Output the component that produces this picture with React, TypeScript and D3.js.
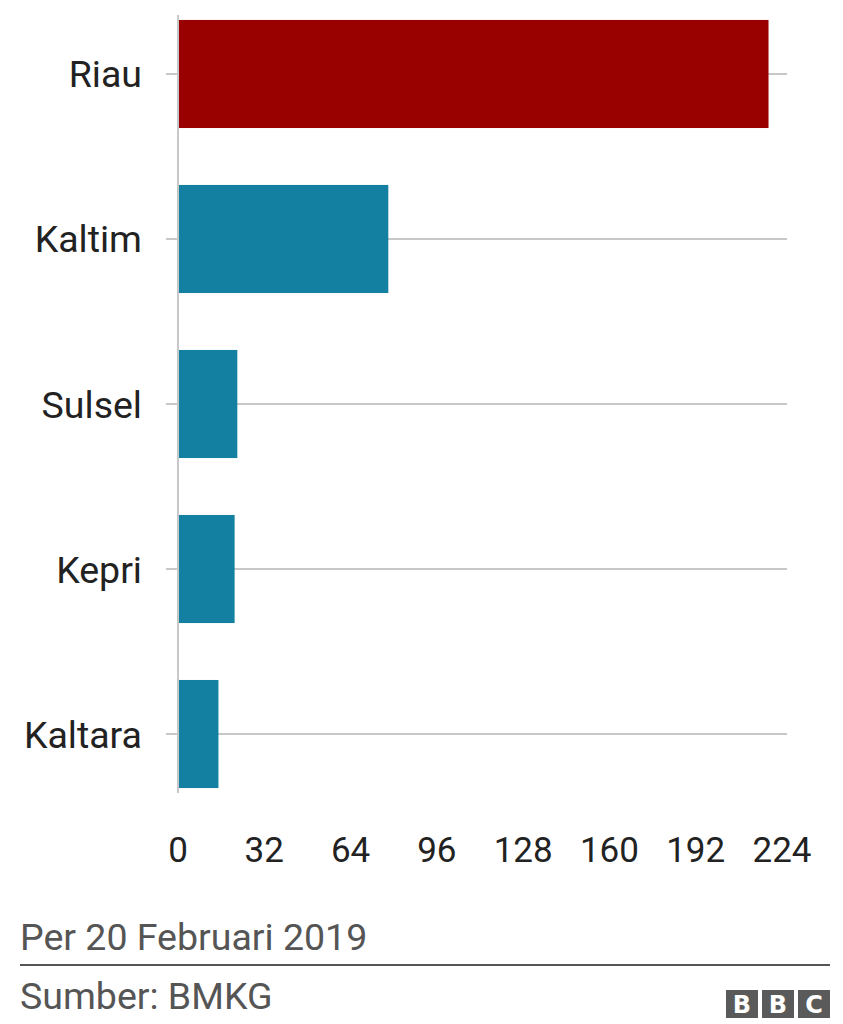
import React from "react";
import * as d3 from "d3";

const categories = ["Riau", "Kaltim", "Sulsel", "Kepri", "Kaltara"];
const values = [219, 78, 22, 21, 15];
const barColors = ["#990000", "#1380A1", "#1380A1", "#1380A1", "#1380A1"];
const tickValues = [0, 32, 64, 96, 128, 160, 192, 224];
const noteText = "Per 20 Februari 2019";
const sourceText = "Sumber: BMKG";

const W = 843;
const H = 1024;
const FONT = "Roboto, 'Noto Sans', sans-serif";

export default function App() {
  const x = d3.scaleLinear().domain([0, 224]).range([178, 782]);
  const y = d3
    .scaleBand<string>()
    .domain(categories)
    .range([15, 793])
    .paddingInner(0.345)
    .paddingOuter(0.03);
  const gridEnd = 787;

  return (
    <svg
      width={W}
      height={H}
      style={{ position: "absolute", left: 0, top: 0, background: "#fff" }}
      fontFamily={FONT}
    >
      {categories.map((c) => {
        const cy = (y(c) ?? 0) + y.bandwidth() / 2;
        return (
          <line key={"g" + c} x1={166} x2={gridEnd} y1={cy} y2={cy} stroke="#c8c8c8" strokeWidth={2} />
        );
      })}
      {categories.map((c, i) => (
        <rect
          key={"b" + c}
          x={x(0) + 1}
          y={y(c)}
          width={x(values[i]) - x(0) - 1}
          height={y.bandwidth()}
          fill={barColors[i]}
        />
      ))}
      <line x1={x(0)} x2={x(0)} y1={15} y2={793} stroke="#c8c8c8" strokeWidth={2} />
      {categories.map((c) => {
        const cy = (y(c) ?? 0) + y.bandwidth() / 2;
        return (
          <text
            key={"l" + c}
            x={142}
            y={cy}
            dy="0.36em"
            textAnchor="end"
            fontSize={37.5}
            fill="#222"
          >
            {c}
          </text>
        );
      })}
      {tickValues.map((t) => (
        <text key={"t" + t} x={x(t)} y={862} textAnchor="middle" fontSize={35} fill="#222">
          {t}
        </text>
      ))}
      <text x={20} y={950} fontSize={37.5} fill="#555">
        {noteText}
      </text>
      <line x1={20} x2={830} y1={965} y2={965} stroke="#555" strokeWidth={2} />
      <text x={20} y={1009} fontSize={37.5} fill="#555">
        {sourceText}
      </text>
      {["B", "B", "C"].map((l, i) => (
        <g key={"bbc" + i} transform={`translate(${726 + i * 36},990)`}>
          <rect width={32} height={28} fill="#5a5a5a" />
          <text
            x={16}
            y={14}
            dy="0.36em"
            textAnchor="middle"
            fontSize={24}
            fontWeight={700}
            fill="#fff"
            fontFamily="'DejaVu Sans', sans-serif"
          >
            {l}
          </text>
        </g>
      ))}
    </svg>
  );
}
